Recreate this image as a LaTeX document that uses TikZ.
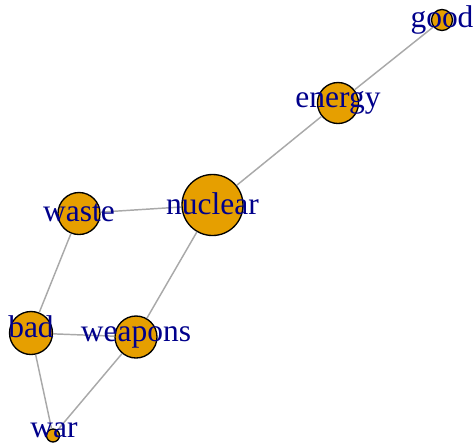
\documentclass[tikz,border=0pt]{standalone}
\usepackage{fontspec}
\setmainfont{Liberation Serif}
\definecolor{vfill}{HTML}{E69F00}
\definecolor{lbl}{HTML}{00008B}
\definecolor{edgegray}{HTML}{A9A9A9}
\begin{document}
\begin{tikzpicture}[x=0.75pt,y=-0.75pt,
  vtx/.style={circle,draw=black,line width=1pt,fill=vfill,inner sep=0pt,minimum size=#1*1.5pt},
  lab/.style={text=lbl,font=\fontsize{23.6}{26}\selectfont,anchor=base,inner sep=0pt},
  link/.style={draw=edgegray,line width=1.1pt}]
\useasboundingbox (0,0) rectangle (474,444);
% vertices
\node[vtx=10.5] (good)    at (442,20) {};
\node[vtx=20.5] (energy)  at (338,103) {};
\node[vtx=30.5] (nuclear) at (212.5,205) {};
\node[vtx=21]   (waste)   at (79,213.5) {};
\node[vtx=21.5] (bad)     at (31,333) {};
\node[vtx=21]   (weapons) at (136,337) {};
\node[vtx=6.5]  (war)     at (53,435.5) {};
% edges
\draw[link] (good) -- (energy);
\draw[link] (energy) -- (nuclear);
\draw[link] (nuclear) -- (waste);
\draw[link] (nuclear) -- (weapons);
\draw[link] (waste) -- (bad);
\draw[link] (bad) -- (weapons);
\draw[link] (bad) -- (war);
\draw[link] (war) -- (weapons);
% labels
\node[lab] (lgood)    at (442,27.5)  {good};
\node[lab] (lenergy)  at (338,107.5) {energy};
\node[lab] (lnuclear) at (212.5,214) {nuclear};
\node[lab] (lwaste)   at (79,221)    {waste};
\node[lab] (lbad)     at (31,337.5)  {bad};
\node[lab] (lweapons) at (136,341.5) {weapons};
\node[lab] (lwar)     at (54,437.5)  {war};
\end{tikzpicture}
\end{document}
